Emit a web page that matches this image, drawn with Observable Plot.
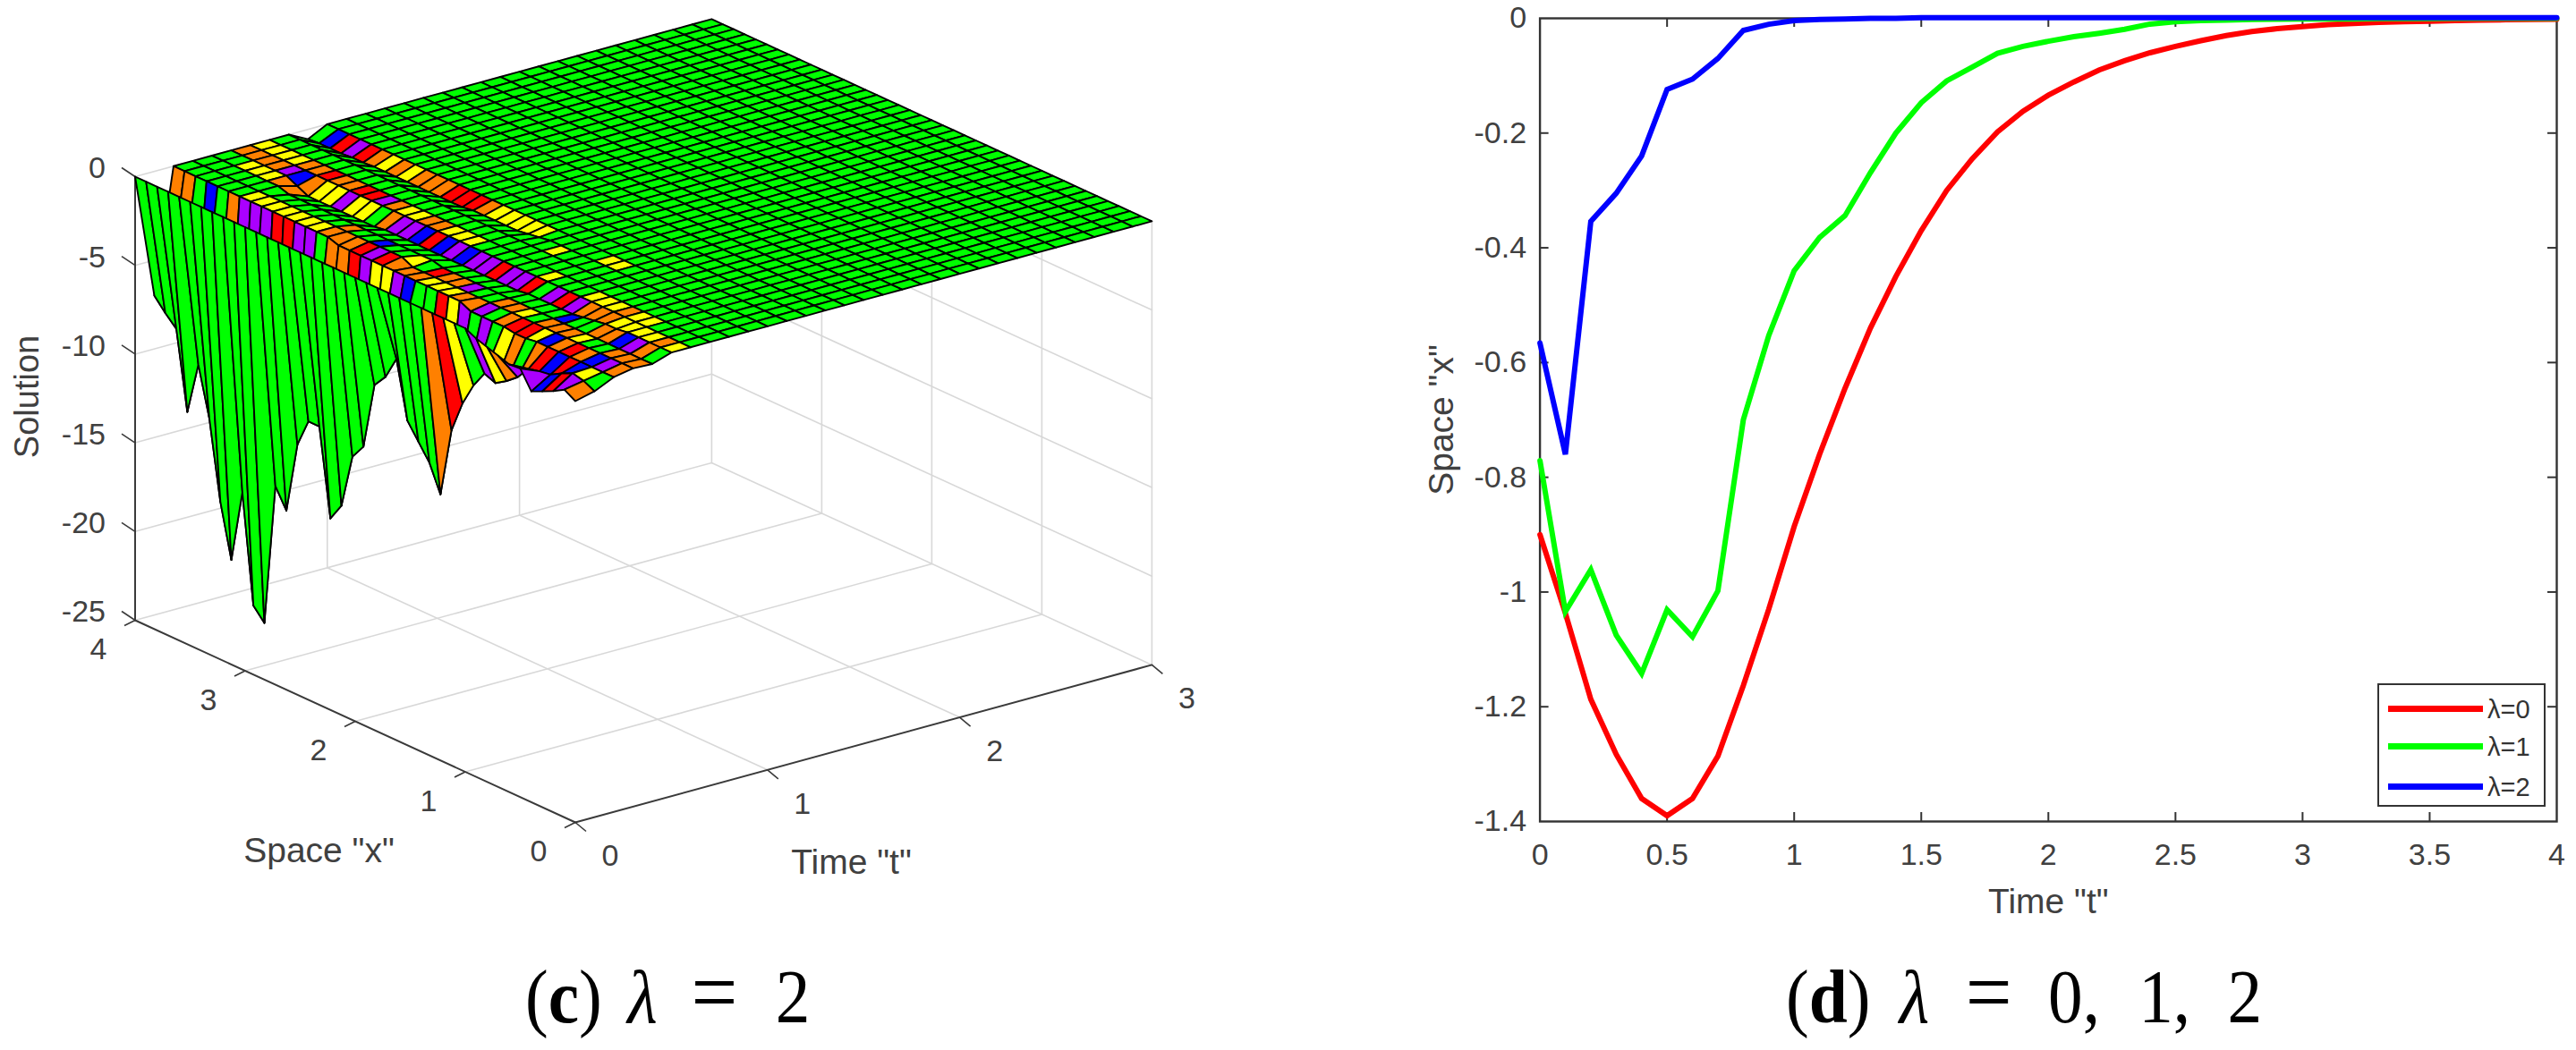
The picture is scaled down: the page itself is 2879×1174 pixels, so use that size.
<!DOCTYPE html>
<html>
<head>
<meta charset="utf-8">
<script src="https://cdn.jsdelivr.net/npm/d3@7"></script>
<script src="https://cdn.jsdelivr.net/npm/@observablehq/plot@0.6"></script>
<style>
  html, body { margin: 0; padding: 0; background: #fff; }
  #page { position: relative; width: 2879px; height: 1174px; overflow: hidden; background: #fff; }
  #left, #right { position: absolute; top: 0; }
  #left { left: 0; }
  #right { left: 1500px; }
  .cap { position: absolute; top: 1068px; font-family: "Liberation Serif", serif; font-size: 84px; line-height: 84px; color: #000; white-space: pre; transform: scaleX(0.92); transform-origin: left top; }
  .cap i { font-style: italic; }
  .cap span { display: inline-block; }
  .cap .eq { font-size: 100px; line-height: 84px; }
  #legend { position: absolute; left: 2657px; top: 764px; width: 184px; height: 134px; border: 2.5px solid #333; background: #fff; box-sizing: content-box; }
  .lg-line { position: absolute; left: 10px; width: 106px; height: 7px; }
  .lg-text { position: absolute; left: 121px; font: 29px/30px "Liberation Sans", sans-serif; color: #333; }
</style>
</head>
<body>
<div id="page">
  <div id="left"></div>
  <div id="right"></div>
  <div class="cap" id="capC" style="left:587px"><span>(<b>c</b>)</span><span style="margin-left:31px"><i>λ</i></span><span class="eq" style="margin-left:41px">=</span><span style="margin-left:46px">2</span></div>
  <div class="cap" id="capD" style="left:1996px"><span>(<b>d</b>)</span><span style="margin-left:35px"><i>λ</i></span><span class="eq" style="margin-left:44px">=</span><span style="margin-left:44px">0,</span><span style="margin-left:47px">1,</span><span style="margin-left:45px">2</span></div>
  <div id="legend"></div>
</div>
<script>
// ---------- right panel: curve values ----------
const tValues = [0,0.1,0.2,0.3,0.4,0.5,0.6,0.7,0.8,0.9,1,1.1,1.2,1.3,1.4,1.5,1.6,1.7,1.8,1.9,2,2.1,2.2,2.3,2.4,2.5,2.6,2.7,2.8,2.9,3,3.1,3.2,3.3,3.4,3.5,3.6,3.7,3.8,3.9,4];
const lambda0 = [-0.90,-1.037,-1.187,-1.283,-1.36,-1.39,-1.36,-1.286,-1.163,-1.03,-0.886,-0.76,-0.645,-0.54,-0.45,-0.37,-0.30,-0.245,-0.198,-0.162,-0.134,-0.111,-0.09,-0.074,-0.06,-0.049,-0.039,-0.03,-0.023,-0.018,-0.0145,-0.011,-0.009,-0.007,-0.006,-0.005,-0.004,-0.003,-0.0025,-0.002,-0.0015];
const lambda1 = [-0.771,-1.034,-0.961,-1.075,-1.142,-1.031,-1.078,-0.998,-0.70,-0.553,-0.44,-0.382,-0.344,-0.269,-0.20,-0.147,-0.109,-0.085,-0.061,-0.049,-0.04,-0.032,-0.026,-0.019,-0.01,-0.006,-0.004,-0.003,-0.002,-0.0015,-0.001,-0.001,-0.001,-0.0005,-0.0005,-0.0005,0,0,0,0,0];
const lambda2 = [-0.566,-0.76,-0.354,-0.305,-0.24,-0.124,-0.106,-0.07,-0.021,-0.0103,-0.004,-0.002,-0.001,0,0,0.001,0.001,0.001,0.001,0.001,0.001,0.001,0.001,0.001,0.001,0.001,0.001,0.001,0.001,0.001,0.001,0.001,0.001,0.001,0.001,0.001,0.001,0.001,0.001,0.001,0.001];
const seriesNames = ["λ=0","λ=1","λ=2"];
const seriesColors = ["#ff0000","#00ff00","#0000ff"];
const xTicks2d = [0,0.5,1,1.5,2,2.5,3,3.5,4];
const yTicks2d = [0,-0.2,-0.4,-0.6,-0.8,-1,-1.2,-1.4];

// ---------- left panel: surface heights, rows t = 0, 0.1, ... ; entries x = 4, 3.9, ... 0 ----------
const z00 = [0,0,0,0,0,0,0,0,0,0,0,0,0,0,0,0,0,0,0,0,0,0,0,0,0,0,0,0,0,0,0,-0.3,-0.5,-0.7,-0.9,-0.85,-1.85,-1.56,-1.26,-0.9,-1.26];
const z01 = [-7,-7.7,-8.3,-12.7,-9.75,-12.5,-16.9,-19.9,-15.8,-21.9,-22.6,-14.6,-15.7,-11.7,-10.1,-10.1,-15,-14,-10.95,-10.1,-6.35,-5.6,-4.3,-7.5,-8.4,-9.3,-10.8,-6.9,-5.1,-3.8,-2.85,-3.1,-2.7,-2.2,-1.45,-1.3,-1.2,-0.85,-0.55,-0.7,-1];
const z02 = [0,0,0,0,0,0,0,0,0,0,0,0,0,0,0,-0.2,-0.2,-0.2,-0.2,-0.2,-0.2,-0.2,-0.2,-0.2,-0.2,-0.2,-0.2,-0.5,-0.5,-0.5,-0.5,-0.6,-0.6,-0.5,-0.5,-0.5,-0.5,-0.5,-0.5,-0.5,-0.5];
const z03 = [0,0,0,0,0,0,0,0,0,0,0,0,0,0,0,0,0,0,0,0,-0.3,-0.3,-0.3,-0.3,-0.3,-0.3,-0.3,-0.3,-0.3,-0.3,-0.3,-0.3,-0.3,-0.3,-0.3,-0.3,-0.3,-0.3,-0.3,-0.3,-0.3];
const z04 = [0,0,0,0,0,0,0,-0.2,-0.2,-0.2,-0.2,-0.2,-0.2,-0.2,-0.2,-0.2,-0.2,-0.2,-0.2,-0.2,-0.2,-0.35,-0.35,-0.35,-0.35,-0.35,-0.35,-0.35,-0.35,-0.35,-0.35,-0.35,-0.35,-0.35,-0.35,-0.35,-0.35,-0.35,-0.35,-0.35,-0.35];
const z05 = [0,0,0,0,0,0,-0.3,-0.6,-0.6,-0.6,-0.6,-0.6,-0.6,-0.6,-0.5,-0.5,-0.5,-0.5,-0.5,-0.5,-0.5,-0.5,-0.5,-0.5,-0.5,-0.5,-0.5,-0.4,-0.4,-0.4,-0.4,-0.4,-0.3,-0.2,-0.1,-0.1,0,0,0,0,0];
const z09 = [-0.55,-0.5,-0.5,-0.5,-0.45,-0.45,-0.4,-0.4,-0.4,-0.4,-0.4,-0.4,-0.4,-0.4,-0.4,-0.3,-0.3,-0.3,-0.3,-0.3,-0.2,-0.1,0,0,0,0,0,0,0,0,0,0,0,0,0,0,0,0,0,0,0];
const zFlat = new Array(41).fill(0);   // the surface reads as flat at 0 everywhere else
const zRows = [z00,z01,z02,z03,z04,z05,zFlat,zFlat,zFlat,z09];
while (zRows.length < 31) zRows.push(zFlat);

// facet colour of each strip of cells (rows past these are all green)
const cellRows = [
  "ggggggggggggggggggggggggggorygpyopppbrpo",
  "oogbgoppprrppgoorpyypbggrypgpgyogorbrbyg",
  "ggggggyyyyyyyooorproooyyyoopgorryborobpo",
  "gggggggggggggoggbggygroopggooygoooyggooo",
  "ggyyyooggggggggggggggggggggggggbggoobpog",
  "oooopboyypyygoppbrbpbpprpprgprpoooyyyyoy",
  "yyyyooroorrpoyyooyyyggggggygggyyyoyygggg",
  "gggggggggggggggggggggggggggggggggggggggg",
  "gggggggggggggggggggggggygggggggggggggggg",
  "gbrproyoyooorrroyyyyygggggyygggggggggggg"
];
const prism = {r:"#ff0000", o:"#ff8000", y:"#ffff00", g:"#00ff00", b:"#0000ff", p:"#aa00ff"};

const xTicks3d = [0,1,2,3,4];
const tTicks3d = [0,1,2,3];
const zTicks3d = [0,-5,-10,-15,-20,-25];

// axonometric view of the box (MATLAB-like view), in pixels per data unit
const view = {u0:642.5, v0:423, ux:-123, vx:-56.5, ut:214.8, vt:-58.7, vz:-19.84};
const proj = (x,t,z) => ({u: view.u0 + view.ux*x + view.ut*t, v: view.v0 + view.vx*x + view.vt*t + view.vz*z});

// ---------- build surface polygons, far to near ----------
const colourAt = (j,k) => { const s = cellRows[j]; const c = s ? s[k] : "g"; return prism[c] || prism.g; };
const facets = [];
for (let j = 29; j >= 0; j--) {
  for (let k = 0; k < 40; k++) {
    const id = j*100 + k;
    const col = colourAt(j,k);
    [[j,k],[j,k+1],[j+1,k+1],[j+1,k]].forEach(([a,b]) => {
      const p = proj(4 - b/10, a/10, zRows[a][b]);
      facets.push({id, col, u:p.u, v:p.v});
    });
  }
}

// ---------- grid and axes ----------
const seg = (id,a,b) => [{id,...proj(...a)},{id,...proj(...b)}];
let grid = [], n = 0;
zTicks3d.forEach(z => {
  grid.push(...seg(n++,[4,0,z],[4,3,z]));
  grid.push(...seg(n++,[4,3,z],[0,3,z]));
});
tTicks3d.slice(1).forEach(t => {
  grid.push(...seg(n++,[4,t,-25],[4,t,0]));
  if (t<3) grid.push(...seg(n++,[4,t,-25],[0,t,-25]));
});
xTicks3d.slice(0,4).forEach(x => {
  grid.push(...seg(n++,[x,3,-25],[x,3,0]));
  if (x>0) grid.push(...seg(n++,[x,0,-25],[x,3,-25]));
});

const axes = [
  ...seg("z",[4,0,-25],[4,0,0]),
  ...seg("x",[4,0,-25],[0,0,-25]),
  ...seg("t",[0,0,-25],[0,3,-25])
];
const tickLen = {z:[-15,-10], x:[-12,6], t:[12,10]};
const ticks3d = [
  ...zTicks3d.map(z => ({...proj(4,0,z), d:tickLen.z})),
  ...xTicks3d.map(x => ({...proj(x,0,-25), d:tickLen.x})),
  ...tTicks3d.map(t => ({...proj(0,t,-25), d:tickLen.t}))
];

const tickColor = "#404040";
const sansFont = '"Liberation Sans", Arial, sans-serif';
const leftChart = Plot.plot({
  width: 1450, height: 1000, margin: 0,
  style: {background:"transparent", overflow:"visible", fontFamily: sansFont},
  x: {domain:[0,1450], range:[0,1450], axis:null},
  y: {domain:[0,1000], range:[0,1000], axis:null},
  marks: [
    Plot.line(grid, {x:"u", y:"v", z:"id", stroke:"#d8d8d8", strokeWidth:1.6}),
    Plot.line(axes, {x:"u", y:"v", z:"id", stroke:"#3a3a3a", strokeWidth:2}),
    Plot.link(ticks3d, {x1:"u", y1:"v", x2:d=>d.u+d.d[0], y2:d=>d.v+d.d[1], stroke:"#3a3a3a", strokeWidth:1.6}),
    Plot.line(facets, {x:"u", y:"v", z:"id", fill:"col", stroke:"#000", strokeWidth:1.9, curve:"linear-closed", strokeLinejoin:"round"}),
    Plot.text(zTicks3d, {x:z=>proj(4,0,z).u, y:z=>proj(4,0,z).v, text:z=>String(z), dx:-33, dy:-9, textAnchor:"end", fontSize:34, fill:tickColor}),
    Plot.text(xTicks3d, {x:x=>proj(x,0,-25).u, y:x=>proj(x,0,-25).v, text:x=>String(x), dx:-41, dy:33, fontSize:34, fill:tickColor}),
    Plot.text(tTicks3d, {x:t=>proj(0,t,-25).u, y:t=>proj(0,t,-25).v, text:t=>String(t), dx:39, dy:38, fontSize:34, fill:tickColor}),
    Plot.text(['Space "x"'], {x:[356], y:[951], text:d=>d, fontSize:39, fill:tickColor}),
    Plot.text(['Time "t"'], {x:[951], y:[964], text:d=>d, fontSize:39, fill:tickColor}),
    Plot.text(["Solution"], {x:[30], y:[443], text:d=>d, rotate:-90, fontSize:38, fill:tickColor})
  ]
});
document.getElementById("left").appendChild(leftChart);

// ---------- right chart ----------
const rows = [];
[lambda0, lambda1, lambda2].forEach((vals,i) => vals.forEach((v,idx) => rows.push({t:tValues[idx], v, s:seriesNames[i]})));
const axisColor = "#333";
const rightChart = Plot.plot({
  width: 1379, height: 1020, marginLeft: 220.6, marginRight: 22, marginTop: 20, marginBottom: 102,
  style: {background:"transparent", overflow:"visible", fontFamily: sansFont},
  x: {domain:[0,4], axis:null},
  y: {domain:[-1.4,0], axis:null},
  color: {domain:seriesNames, range:seriesColors},
  marks: [
    Plot.frame({stroke:axisColor, strokeWidth:2.4}),
    Plot.tickX(xTicks2d.slice(1,-1), {x:d=>d, stroke:axisColor, strokeWidth:2, insetTop:888}),
    Plot.tickX(xTicks2d.slice(1,-1), {x:d=>d, stroke:axisColor, strokeWidth:2, insetBottom:888}),
    Plot.tickY(yTicks2d.slice(1,-1), {y:d=>d, stroke:axisColor, strokeWidth:2, insetRight:1126.4}),
    Plot.tickY(yTicks2d.slice(1,-1), {y:d=>d, stroke:axisColor, strokeWidth:2, insetLeft:1126.4}),
    Plot.axisX(xTicks2d, {anchor:"bottom", tickSize:0, tickPadding:24, fontSize:34, label:null, tickFormat:d=>String(d), color:tickColor}),
    Plot.axisY(yTicks2d, {anchor:"left", tickSize:0, tickPadding:15, fontSize:34, label:null, tickFormat:d=>String(d), color:tickColor}),
    Plot.line(rows, {x:"t", y:"v", z:"s", stroke:"s", strokeWidth:6, strokeLinejoin:"miter", strokeMiterlimit:3}),
    Plot.text(['Time "t"'], {x:[2], y:[-1.4], text:d=>d, dy:90, fontSize:39, fill:tickColor}),
    Plot.text(['Space "x"'], {x:[0], y:[-0.7], text:d=>d, rotate:-90, dx:-110, fontSize:39, fill:tickColor})
  ]
});
document.getElementById("right").appendChild(rightChart);

// ---------- legend ----------
const legend = document.getElementById("legend");
const legendTops = [23, 65, 110];
seriesNames.forEach((name,i) => {
  const l = document.createElement("div");
  l.className = "lg-line"; l.style.top = legendTops[i] + "px"; l.style.background = seriesColors[i];
  const t = document.createElement("div");
  t.className = "lg-text"; t.style.top = (legendTops[i]-11) + "px"; t.textContent = name;
  legend.append(l,t);
});
</script>
</body>
</html>
